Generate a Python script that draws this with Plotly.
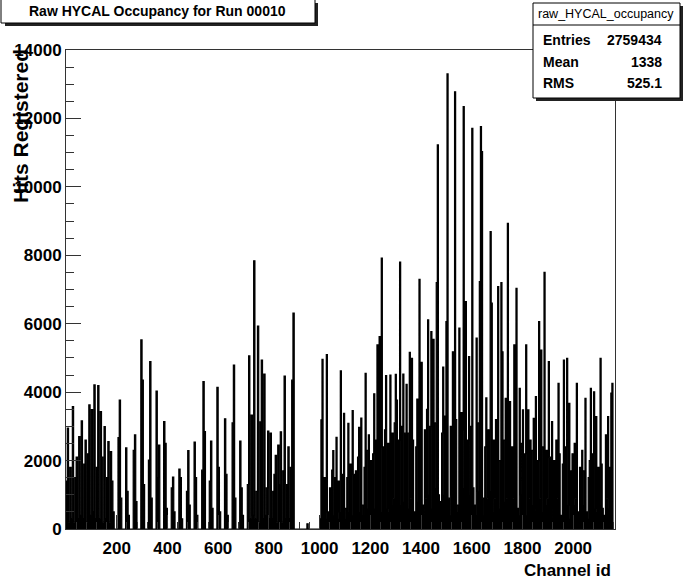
import plotly.graph_objects as go

# ---------------- data ----------------
# Lead-glass channels 0..899, 30 channels per row, 6 bins of 5 channels per row
glass_rows = [
    [1400, 2950, 200, 1800, 300, 3575],
    [200, 1500, 2100, 300, 2700, 400],
    [3160, 300, 1900, 2600, 200, 2200],
    [3625, 400, 3490, 500, 4210, 300],
    [1800, 4190, 300, 3430, 2100, 200],
    [2990, 300, 1500, 2555, 200, 2260],
    [1400, 500, 0, 0, 0, 2670],
    [3770, 900, 0, 0, 0, 2370],
    [1100, 400, 0, 0, 0, 2300],
    [2750, 800, 0, 0, 0, 5525],
    [4355, 1300, 0, 0, 0, 2015],
    [4890, 900, 0, 0, 0, 4030],
    [1500, 2450, 0, 0, 0, 3140],
    [2500, 600, 0, 0, 0, 1200],
    [1520, 500, 0, 0, 0, 1750],
    [1500, 300, 0, 0, 0, 1100],
    [2290, 700, 0, 0, 0, 2540],
    [1500, 400, 0, 0, 0, 1720],
    [4310, 2845, 0, 0, 0, 1400],
    [2570, 600, 0, 0, 0, 4140],
    [1800, 500, 0, 0, 0, 3220],
    [1600, 400, 0, 0, 0, 3100],
    [4790, 900, 0, 0, 0, 2570],
    [1200, 400, 0, 0, 0, 1300],
    [5060, 300, 3330, 400, 7840, 300],
    [1100, 5930, 200, 3130, 4940, 300],
    [4530, 400, 1200, 2860, 300, 2800],
    [300, 1100, 1600, 2150, 200, 2450],
    [1300, 2840, 200, 1700, 4470, 300],
    [1300, 2400, 300, 1800, 4350, 6310],
]
glass_bin = 5

# Unused channels 900..999 (bins of 5 channels)
gap_hits = [0, 0, 0, 0, 0, 0, 0, 0, 0, 0, 150, 0, 0, 0, 0, 0, 0, 0, 0, 0]

# Crystal channels 1001..2156, 34 channels per row, 8 bins per row
crystal_rows = [
    [300, 3190, 4960, 400, 1500, 300, 5100, 500],
    [200, 1200, 300, 1725, 2290, 400, 1500, 2680],
    [300, 1400, 500, 4620, 1600, 400, 3380, 600],
    [300, 1500, 3090, 500, 1900, 400, 3460, 1600],
    [300, 1700, 500, 2100, 2970, 500, 3240, 700],
    [400, 1800, 4550, 600, 2300, 2750, 500, 2000],
    [400, 2200, 3950, 600, 2600, 5380, 700, 5620],
    [500, 7920, 2400, 700, 2900, 4480, 600, 2500],
    [500, 4500, 700, 2800, 900, 3100, 4520, 3770],
    [400, 2600, 7800, 700, 3000, 4530, 800, 2800],
    [4230, 600, 2800, 5165, 900, 4990, 2600, 500],
    [500, 2400, 3800, 800, 7300, 2300, 4870, 700],
    [400, 2900, 900, 3500, 6110, 1000, 3000, 5770],
    [600, 5540, 1200, 3100, 7200, 11225, 1000, 800],
    [500, 2800, 4735, 1000, 3300, 6060, 13300, 900],
    [400, 3000, 1000, 5180, 1400, 12780, 3200, 700],
    [500, 5875, 1100, 3400, 1200, 12345, 2900, 6645],
    [500, 2600, 5040, 1000, 3000, 11710, 1200, 700],
    [400, 5580, 1100, 3100, 7230, 11760, 11030, 900],
    [400, 2400, 3830, 900, 2900, 1100, 8690, 6600],
    [500, 2600, 900, 3200, 1200, 7085, 2000, 600],
    [7200, 5180, 800, 2600, 3820, 900, 8935, 600],
    [3720, 500, 2400, 900, 5380, 2600, 7035, 600],
    [400, 4110, 1000, 2500, 3480, 800, 2200, 5380],
    [400, 3480, 900, 2600, 700, 2300, 3235, 500],
    [3870, 600, 2000, 6060, 900, 5230, 2400, 500],
    [7500, 700, 2300, 900, 4890, 2100, 600, 3140],
    [300, 2000, 700, 2600, 900, 4260, 2200, 400],
    [400, 1900, 4940, 800, 2400, 4990, 700, 3670],
    [300, 1700, 2200, 700, 2500, 900, 4260, 500],
    [300, 1800, 600, 2300, 1700, 700, 3820, 500],
    [300, 1500, 2000, 4110, 700, 2200, 4010, 600],
    [3285, 500, 1800, 700, 4990, 1900, 600, 400],
    [300, 2750, 900, 3285, 600, 1800, 3975, 4260],
]
crystal_first = 1001
crystal_row_len = 34

x_ticks = [200, 400, 600, 800, 1000, 1200, 1400, 1600, 1800, 2000]
y_ticks = [0, 2000, 4000, 6000, 8000, 10000, 12000, 14000]

stats_name = "raw_HYCAL_occupancy"
stats_rows = [("Entries", "2759434"), ("Mean", "1338"), ("RMS", "525.1")]
title_text = "Raw HYCAL Occupancy for Run 00010"

# ---------------- build series ----------------
xs, ys = [], []
for r, row in enumerate(glass_rows):
    for b, v in enumerate(row):
        xs.append((r * len(row) + b) * glass_bin)
        ys.append(v)
for i, v in enumerate(gap_hits):
    xs.append(900 + i * glass_bin)
    ys.append(v)
for r, row in enumerate(crystal_rows):
    w = crystal_row_len / len(row)
    for b, v in enumerate(row):
        xs.append(crystal_first + r * crystal_row_len + b * w)
        ys.append(v)
xs.append(crystal_first + len(crystal_rows) * crystal_row_len)
ys.append(0)

FONT = "Liberation Sans, Arial, Helvetica, sans-serif"

fig = go.Figure()
fig.add_trace(go.Scatter(x=xs, y=ys, mode="lines",
                         line=dict(shape="hv", color="black", width=1.2),
                         fill="tozeroy", fillcolor="black",
                         hoverinfo="skip"))

# geometry helpers (pixel -> paper)
L, R, T, B = 66, 615, 50, 529
def px(x):
    return (x - L) / (R - L)
def py(y):
    return (B - y) / (B - T)

fig.update_layout(
    width=683, height=584,
    margin=dict(l=L, r=683 - R, t=T, b=584 - B, pad=0),
    paper_bgcolor="white", plot_bgcolor="white",
    showlegend=False,
    font=dict(family=FONT, color="black"),
)
fig.update_xaxes(
    range=[0, 2165], showgrid=False, zeroline=False, automargin=False,
    showline=True, linecolor="#333", linewidth=1, mirror=True,
    tickmode="array", tickvals=x_ticks, ticktext=[str(t) for t in x_ticks],
    ticks="inside", ticklen=14, tickwidth=1, tickcolor="#333",
    minor=dict(ticks="inside", ticklen=7, dtick=40, tick0=0, tickcolor="#333", showgrid=False),
    tickfont=dict(family=FONT, size=17, weight="bold", color="black"),
    ticklabelstandoff=4,
)
fig.update_yaxes(
    range=[0, 14000], showgrid=False, zeroline=False, automargin=False,
    showline=True, linecolor="#333", linewidth=1, mirror=True,
    tickmode="array", tickvals=y_ticks, ticktext=[str(t) for t in y_ticks],
    ticks="inside", ticklen=15, tickwidth=1, tickcolor="#333",
    minor=dict(ticks="inside", ticklen=8, dtick=500, tick0=0, tickcolor="#333", showgrid=False),
    tickfont=dict(family=FONT, size=17, weight="bold", color="black"),
    ticklabelstandoff=0,
)

shapes = []
# title box with shadow
shapes.append(dict(type="rect", xref="paper", yref="paper",
                   x0=px(5), x1=px(318), y0=py(3), y1=py(26),
                   fillcolor="#222", line=dict(width=0), layer="above"))
shapes.append(dict(type="rect", xref="paper", yref="paper",
                   x0=px(1), x1=px(315), y0=py(-2), y1=py(23),
                   fillcolor="white", line=dict(color="black", width=1), layer="above"))
# stats box with shadow
shapes.append(dict(type="rect", xref="paper", yref="paper",
                   x0=px(536), x1=px(683), y0=py(6), y1=py(101),
                   fillcolor="#222", line=dict(width=0), layer="above"))
shapes.append(dict(type="rect", xref="paper", yref="paper",
                   x0=px(533), x1=px(680), y0=py(3), y1=py(98),
                   fillcolor="white", line=dict(color="black", width=1), layer="above"))
shapes.append(dict(type="line", xref="paper", yref="paper",
                   x0=px(533), x1=px(680), y0=py(25), y1=py(25),
                   line=dict(color="black", width=1), layer="above"))
fig.update_layout(shapes=shapes)

ann = []
ann.append(dict(text=title_text, xref="paper", yref="paper",
                x=px(157), y=py(11), xanchor="center", yanchor="middle", showarrow=False,
                font=dict(family=FONT, size=14, weight="bold", color="black")))
ann.append(dict(text=stats_name, xref="paper", yref="paper",
                x=px(606), y=py(14), xanchor="center", yanchor="middle", showarrow=False,
                font=dict(family=FONT, size=12.5, color="black")))
for i, (k, v) in enumerate(stats_rows):
    yy = 40 + i * 21.5
    ann.append(dict(text=k, xref="paper", yref="paper", x=px(541), y=py(yy),
                    xanchor="left", yanchor="middle", showarrow=False,
                    font=dict(family=FONT, size=14, weight="bold", color="black")))
    ann.append(dict(text=v, xref="paper", yref="paper", x=px(664), y=py(yy),
                    xanchor="right", yanchor="middle", showarrow=False,
                    font=dict(family=FONT, size=14, weight="bold", color="black")))
ann.append(dict(text="Channel id", xref="paper", yref="paper", x=px(613), y=py(570),
                xanchor="right", yanchor="middle", showarrow=False,
                font=dict(family=FONT, size=17, weight="bold", color="black")))
ann.append(dict(text="Hits Registered", xref="paper", yref="paper", x=px(20), y=py(47),
                xanchor="center", yanchor="top", textangle=-90, showarrow=False,
                font=dict(family=FONT, size=21, weight="bold", color="black")))
fig.update_layout(annotations=ann)

fig.write_html("out.html", config={"displayModeBar": False},
               post_script="document.body.style.margin='0px';document.body.style.padding='0px';")
